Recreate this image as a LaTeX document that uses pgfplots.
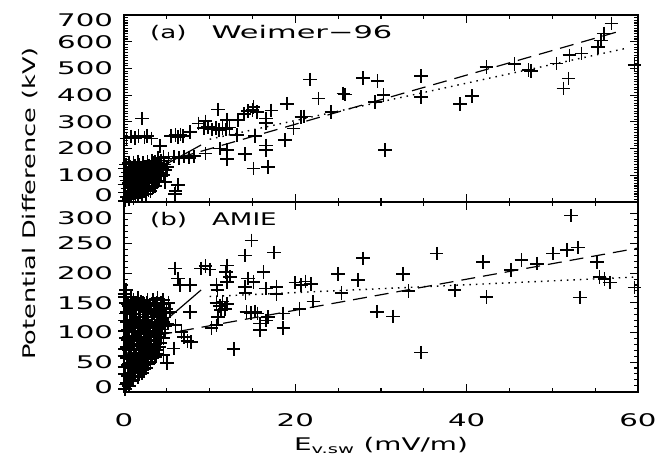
\documentclass[border=0pt]{standalone}
\usepackage{fontspec}
\setmainfont{DejaVu Sans}
\usepackage{graphicx}
\usepackage{pgfplots}
\pgfplotsset{compat=1.18}
\usepackage{pgfplotstable}

% wide, IDL-like lettering
\newcommand\wide[1]{\scalebox{1.5}[1]{#1}}
\newcommand\tk[1]{\scalebox{1.68}[1]{#1}}

% Weimer-96 potential drop vs E (mV/m, kV)
\pgfplotstableread{
E V
0.10 5
0.35 20
0.15 35
0.40 50
0.05 65
0.30 80
0.20 95
0.45 110
0.10 125
0.25 140
0.60 10
0.85 25
0.70 40
0.95 55
0.55 70
0.80 85
0.65 100
0.90 115
0.75 130
0.60 145
1.10 15
1.35 30
1.20 45
1.45 60
1.05 75
1.30 90
1.15 105
1.40 120
1.25 135
1.10 148
1.60 20
1.85 35
1.70 50
1.95 65
1.55 80
1.80 95
1.65 110
1.90 125
1.75 140
1.60 152
2.10 25
2.35 40
2.20 55
2.45 70
2.05 85
2.30 100
2.15 115
2.40 130
2.25 145
2.60 30
2.85 45
2.70 60
2.95 75
2.55 90
2.80 105
2.65 120
2.90 135
2.75 150
3.10 40
3.35 55
3.20 70
3.45 85
3.05 100
3.30 115
3.15 130
3.40 145
3.25 155
3.60 60
3.85 75
3.70 90
3.95 105
3.55 120
3.80 135
3.65 150
4.10 80
4.35 95
4.20 110
4.45 125
4.05 140
4.30 155
4.60 100
4.85 120
4.70 140
5.00 130
4.80 75
6.00 40
6.30 63
5.95 31
4.0 166
4.6 168
5.2 163
5.8 170
6.4 165
7.0 170
7.6 166
8.2 171
0.3 238
0.8 245
1.3 240
1.7 246
2.4 242
2.7 248
3.2 238
4.2 209
2.1 312
5.5 248
6.0 250
6.3 244
6.6 252
6.9 247
7.7 262
8.7 294
9.5 302
9.3 276
9.8 280
10.3 272
10.7 278
11.1 270
11.5 276
11.9 272
12.3 279
11.0 346
12.0 308
13.3 306
13.2 250
14.0 330
14.5 340
15.0 345
15.5 338
15.1 356
15.3 246
16.6 313
16.6 295
17.2 343
16.6 212
16.6 194
16.8 131
15.1 125
14.1 179
18.8 231
19.8 275
19.0 368
20.7 318
21.0 320
21.7 458
22.7 387
24.2 337
25.6 406
12.0 194
11.2 200
9.5 181
12.0 162
25.8 402
27.9 464
29.6 452
29.3 375
30.3 400
30.5 194
34.7 471
34.7 393
39.2 366
40.6 396
42.3 506
45.6 516
47.2 493
47.5 490
50.5 518
51.3 425
51.9 462
52.0 549
53.4 556
55.3 580
55.7 605
56.0 631
56.9 668
59.6 512
}\weimer

% AMIE potential drop vs E
\pgfplotstableread{
E V
0.10 5
0.35 15
0.15 30
0.40 45
0.05 60
0.30 75
0.20 90
0.45 105
0.10 120
0.35 135
0.20 150
0.05 165
0.25 172
0.60 10
0.85 25
0.70 40
0.95 55
0.55 70
0.80 85
0.65 100
0.90 115
0.75 130
0.60 145
0.85 160
1.10 20
1.35 35
1.20 50
1.45 65
1.05 80
1.30 95
1.15 110
1.40 125
1.25 140
1.10 155
1.60 25
1.85 40
1.70 55
1.95 70
1.55 85
1.80 100
1.65 115
1.90 130
1.75 145
1.60 158
2.10 32
2.35 45
2.20 60
2.45 75
2.05 90
2.30 105
2.15 120
2.40 135
2.25 150
2.60 40
2.85 55
2.70 70
2.95 85
2.55 100
2.80 115
2.65 130
2.90 145
2.75 155
3.10 50
3.35 65
3.20 80
3.45 95
3.05 110
3.30 125
3.15 140
3.40 155
3.60 58
3.85 70
3.70 85
3.95 100
3.55 115
3.80 130
3.65 145
3.90 158
4.10 75
4.35 90
4.20 105
4.45 120
4.05 135
4.30 150
4.60 90
4.85 110
4.70 125
4.95 140
4.55 155
5.10 115
5.35 135
5.20 150
0.25 12
0.45 27
0.05 42
0.30 57
0.15 72
0.40 87
0.10 102
0.35 117
0.25 132
0.45 147
0.15 160
0.70 18
0.95 32
0.60 47
0.85 62
0.75 77
0.55 92
0.90 107
0.70 122
0.95 137
0.80 152
1.30 27
1.05 42
1.40 57
1.20 72
1.45 87
1.10 102
1.35 117
1.20 132
1.45 147
1.80 32
1.55 47
1.90 62
1.70 77
1.95 92
1.60 107
1.85 122
1.70 137
1.95 152
2.30 38
2.05 52
2.40 67
2.20 82
2.45 97
2.10 112
2.35 127
2.15 142
2.80 47
2.55 62
2.90 77
2.70 92
2.95 107
2.60 122
2.85 137
2.65 150
3.25 57
3.45 72
3.10 87
3.35 102
3.20 117
3.45 132
3.05 147
3.75 64
3.55 78
3.90 92
3.70 107
3.95 122
3.60 137
3.85 150
4.25 82
4.05 97
4.40 112
4.20 127
4.45 142
4.75 100
4.55 117
4.90 132
4.65 147
4.6 62
5.0 48
5.8 73
6.0 112
6.7 101
7.0 92
7.4 86
7.8 84
7.7 134
5.95 208
6.3 191
6.5 180
7.7 180
9.0 208
9.5 212
10.0 206
12.0 213
11.9 202
12.4 194
12.0 185
10.8 180
10.9 171
10.8 150
11.2 145
11.5 152
12.0 148
11.8 140
11.3 138
11.0 126
10.2 107
10.8 112
12.8 72
14.1 177
14.5 191
15.1 185
14.2 166
16.3 202
16.6 174
17.8 177
17.8 165
14.3 134
14.8 133
15.3 135
15.6 132
15.9 115
16.6 120
15.9 104
16.8 126
18.6 132
18.6 107
20.0 184
20.7 180
21.2 186
21.8 182
20.5 140
22.1 152
25.0 199
25.4 166
14.9 255
14.1 230
17.5 235
27.9 225
27.3 188
29.5 135
31.4 127
32.6 199
33.2 170
34.7 66
36.5 233
38.6 171
41.9 219
42.3 160
45.2 205
46.4 222
48.2 216
50.1 233
51.7 239
53.0 243
52.2 297
53.2 159
55.2 219
55.5 193
56.1 190
56.7 184
59.6 176
}\amie

\pgfplotsset{
  panel/.style={
    scale only axis, width=514bp,
    xmin=0, xmax=60, xtick={0,20,40,60}, minor x tick num=3,
    major tick length=8bp, minor tick length=4bp,
    axis line style={line width=1.6bp},
    tick style={black, line width=1.1bp},
    /pgf/number format/assume math mode=true,
    yticklabel style={xshift=-5bp},
  },
  pts/.style={only marks, mark=+, mark size=6.8bp, mark options={line width=1.7bp}},
  fitdash/.style={line width=1.2bp, dash pattern=on 14bp off 8bp},
  fitdot/.style={line width=1.4bp, dash pattern=on 1.5bp off 5bp},
  fitsolid/.style={line width=1.2bp},
}

\begin{document}
\fontsize{17.4bp}{21bp}\selectfont
\begin{tikzpicture}
\useasboundingbox (-124bp,-73.3bp) rectangle (545bp,391.7bp);

\begin{axis}[panel,
    at={(0,189.7bp)}, anchor=south west, height=187bp,
    ymin=0, ymax=700, ytick={0,100,...,700}, minor y tick num=9,
    xticklabels={,,,},
    yticklabel={\ifnum\ticknum=0 \raisebox{7bp}[\height][\depth]{\tk{\pgfmathprintnumber{\tick}}}\else\ifnum\ticknum=7 \raisebox{-5bp}[\height][\depth]{\tk{\pgfmathprintnumber{\tick}}}\else\tk{\pgfmathprintnumber{\tick}}\fi\fi},
  ]
  \addplot[pts] table[x=E, y=V] {\weimer};
  \addplot[fitsolid] coordinates {(0,55) (9,213.4)};
  \addplot[fitdash] coordinates {(4,143.8) (58,640.6)};
  \addplot[fitdot] coordinates {(10,235) (58.5,574.5)};
\end{axis}

\begin{axis}[panel,
    at={(0,0)}, anchor=south west, height=189.7bp,
    ymin=0, ymax=320, ytick={0,50,...,300}, minor y tick num=4,
    xticklabel={\tk{\pgfmathprintnumber{\tick}}},
    xticklabel style={yshift=-15.5bp},
    yticklabel={\ifnum\ticknum=0 \raisebox{5bp}[\height][\depth]{\tk{\pgfmathprintnumber{\tick}}}\else\ifnum\ticknum=6 \raisebox{-4bp}[\height][\depth]{\tk{\pgfmathprintnumber{\tick}}}\else\tk{\pgfmathprintnumber{\tick}}\fi\fi},
    xlabel={\scalebox{1.6}[1]{E\textsubscript{v.sw}\ (mV/m)}},
    xlabel style={at={(rel axis cs:0.5,0)}, anchor=center, yshift=-54bp},
  ]
  \addplot[pts] table[x=E, y=V] {\amie};
  \addplot[fitsolid] coordinates {(0,60) (9,171.6)};
  \addplot[fitdash] coordinates {(4,95.5) (60,242.2)};
  \addplot[fitdot] coordinates {(10,160.6) (60,193.6)};
\end{axis}

\node[anchor=north west, inner sep=0pt] at (26bp,366.7bp) {\wide{(a)}\hspace{25bp}\scalebox{1.75}[1]{Weimer−96}};
\node[anchor=north west, inner sep=0pt] at (26bp,180bp) {\wide{(b)}\hspace{25bp}\wide{AMIE}};
\node[rotate=90] at (-94bp,188bp) {\scalebox{1.47}[1]{Potential Difference (kV)}};
\end{tikzpicture}
\end{document}
